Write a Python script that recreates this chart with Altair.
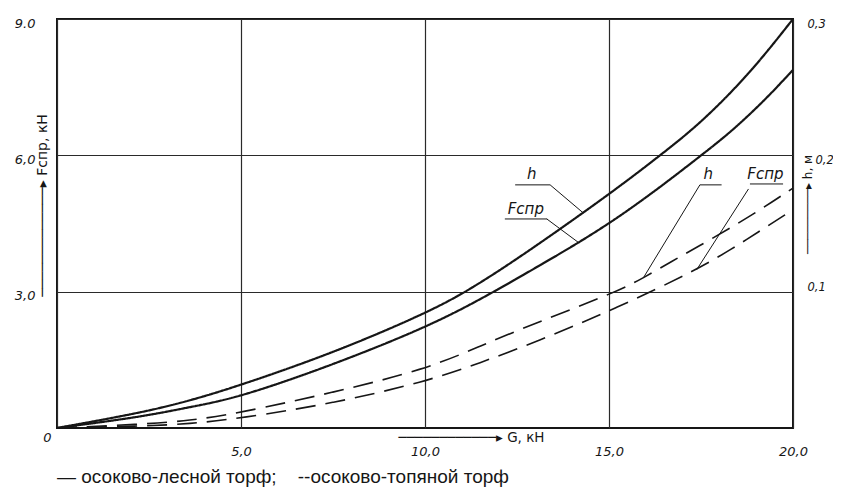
import altair as alt
import pandas as pd

# ---- data (G in kN) ----
# sedge-forest peat (solid)
G_F_forest = [0, 2.26, 3.61, 4.95, 7.5, 10.02, 11.49, 13.0, 15.22, 17.56, 18.38, 19.29, 20.0]
F_forest = [0, 0.24, 0.46, 0.67, 1.39, 2.21, 2.82, 3.52, 4.57, 6.03, 6.56, 7.26, 7.88]
G_h_forest = [0, 2.26, 3.61, 4.95, 7.5, 10.02, 11.27, 13.0, 15.19, 16.39, 17.47, 18.83, 20.0]
h_forest = [0, 0.011, 0.020, 0.031, 0.055, 0.084, 0.102, 0.133, 0.175, 0.200, 0.223, 0.260, 0.300]
# sedge-bog peat (dashed)
G_F_bog = [0, 2.26, 3.61, 4.95, 7.5, 10.02, 11.49, 13.0, 15.22, 17.38, 18.38, 19.01, 19.92, 20.0]
F_bog = [0, 0.04, 0.09, 0.21, 0.54, 1.02, 1.43, 1.89, 2.64, 3.48, 3.96, 4.29, 4.76, 4.80]
G_h_bog = [0, 2.26, 3.61, 4.95, 7.5, 10.02, 11.49, 13.0, 15.22, 15.93, 16.75, 17.29, 18.83, 20.0]
h_bog = [0, 0.0027, 0.0053, 0.011, 0.026, 0.043, 0.060, 0.077, 0.100, 0.110, 0.123, 0.131, 0.155, 0.176]

series_names = ["лесной", "топяной"]

# annotation labels (in G / kN units)
ann_text = ["h", "Fспр", "h", "Fспр"]
ann_G = [12.90, 12.74, 17.70, 19.25]
ann_F = [5.60, 4.82, 5.58, 5.58]
ul_G1 = [12.45, 12.17, 17.47, 18.83]
ul_G2 = [13.40, 13.32, 18.06, 19.73]
ul_F = [5.35, 4.60, 5.35, 5.37]
ld_G1 = [13.40, 13.31, 17.47, 18.79]
ld_F1 = [5.35, 4.60, 5.35, 5.26]
ld_G2 = [14.29, 14.19, 15.93, 17.38]
ld_F2 = [4.74, 4.07, 3.30, 3.48]

x_ticks = [0, 5, 10, 15, 20]
yF_ticks = [3, 6, 9]
yh_ticks = [0.1, 0.2, 0.3]

legend_text = "— осоково-лесной торф;\u00a0\u00a0\u00a0 --осоково-топяной торф"

# ---- tables ----
df_F = pd.DataFrame({
    "G": G_F_forest + G_F_bog,
    "F": F_forest + F_bog,
    "series": [series_names[0]] * len(G_F_forest) + [series_names[1]] * len(G_F_bog),
})
df_h = pd.DataFrame({
    "G": G_h_forest + G_h_bog,
    "h": h_forest + h_bog,
    "series": [series_names[0]] * len(G_h_forest) + [series_names[1]] * len(G_h_bog),
})
df_ann = pd.DataFrame({
    "text": ann_text, "G": ann_G, "F": ann_F,
    "ulG1": ul_G1, "ulG2": ul_G2, "ulF": ul_F,
    "ldG1": ld_G1, "ldF1": ld_F1, "ldG2": ld_G2, "ldF2": ld_F2,
})

INK = "#161616"
HAND = "DejaVu Sans"

x_axis = alt.Axis(
    values=x_ticks,
    title="────────────▸  G, кН",
    titleX=414, titleY=9, titleAlign="center", titleBaseline="middle",
    titleFont=HAND, titleFontSize=13.5, titleFontWeight="normal", titleColor=INK,
    labelExpr="datum.value == 0 ? '0' : replace(format(datum.value, '.1f'), '.', ',')",
    labelFont=HAND, labelFontStyle="italic", labelFontSize=13, labelColor=INK,
    labelPadding={"condition": {"test": "datum.value == 0", "value": 3}, "value": 17},
    labelOffset={"condition": {"test": "datum.value == 0", "value": -10}, "value": 0},
    labelFlush=False, labelOverlap=False,
    domain=False, ticks=False,
    grid=True, gridColor="#2a2a2a", gridWidth=1.2, gridOpacity=1,
)

y_left = alt.Axis(
    values=yF_ticks,
    title="─────────────▸  Fспр, кН",
    titleAngle=270, titleX=-15, titleY=186, titleAlign="center", titleBaseline="middle",
    titleFont=HAND, titleFontSize=14, titleFontWeight="normal", titleColor=INK,
    labelExpr="datum.value == 9 ? '9.0' : replace(format(datum.value, '.1f'), '.', ',')",
    labelFont=HAND, labelFontStyle="italic", labelFontSize=13, labelColor=INK,
    labelPadding=22, labelOffset=4, labelFlush=False, labelOverlap=False,
    domain=False, ticks=False,
    grid=True, gridColor="#2a2a2a", gridWidth=1.2, gridOpacity=1,
)

y_right = alt.Axis(
    orient="right",
    values=yh_ticks,
    title="─────────▸  h, м",
    titleAngle=270, titleX=14, titleY=185, titleAlign="center", titleBaseline="middle",
    titleFont=HAND, titleFontSize=12, titleFontWeight="normal", titleColor=INK,
    labelExpr="replace(format(datum.value, '.1f'), '.', ',')",
    labelFont=HAND, labelFontStyle="italic", labelFontSize=11.5, labelColor=INK,
    labelPadding={"condition": {"test": "datum.value > 0.15 && datum.value < 0.25", "value": 22}, "value": 14},
    labelOffset={"condition": {"test": "datum.value < 0.15", "value": -4}, "value": 5},
    labelFlush=False, labelOverlap=False,
    domain=False, ticks=False, grid=False,
)

xs = alt.Scale(domain=[0, 20], nice=False, zero=False)
yFs = alt.Scale(domain=[0, 9], nice=False)
yhs = alt.Scale(domain=[0, 0.3], nice=False)

dash = alt.StrokeDash("series:N", scale=alt.Scale(domain=series_names, range=[[1, 0], [20, 10]]), legend=None)
swidth = alt.StrokeWidth("series:N", scale=alt.Scale(domain=series_names, range=[2.2, 1.6]), legend=None)

F_lines = alt.Chart(df_F).mark_line(color=INK, interpolate="basis").encode(
    x=alt.X("G:Q", scale=xs, axis=x_axis),
    y=alt.Y("F:Q", scale=yFs, axis=y_left),
    strokeDash=dash, strokeWidth=swidth, detail="series:N",
)

ann_base = alt.Chart(df_ann)
texts = ann_base.mark_text(font=HAND, fontStyle="italic", fontSize=15, color=INK, baseline="middle").encode(
    x=alt.X("G:Q", scale=xs, axis=x_axis),
    y=alt.Y("F:Q", scale=yFs, axis=y_left),
    text="text:N",
)
underlines = ann_base.mark_rule(color=INK, strokeWidth=1).encode(
    x=alt.X("ulG1:Q", scale=xs, axis=x_axis), x2="ulG2:Q",
    y=alt.Y("ulF:Q", scale=yFs, axis=y_left),
)
leaders = ann_base.mark_rule(color=INK, strokeWidth=1).encode(
    x=alt.X("ldG1:Q", scale=xs, axis=x_axis), x2="ldG2:Q",
    y=alt.Y("ldF1:Q", scale=yFs, axis=y_left), y2="ldF2:Q",
)

left = alt.layer(F_lines, underlines, leaders, texts)

h_lines = alt.Chart(df_h).mark_line(color=INK, interpolate="basis").encode(
    x=alt.X("G:Q", scale=xs, axis=x_axis),
    y=alt.Y("h:Q", scale=yhs, axis=y_right),
    strokeDash=dash, strokeWidth=swidth, detail="series:N",
)

chart = alt.layer(left, h_lines).resolve_scale(y="independent").properties(
    width=736, height=409,
    padding={"left": 49, "top": 11, "right": 40, "bottom": 66},
    autosize=alt.AutoSizeParams(type="none"),
    background="white",
    title=alt.TitleParams(
        text=legend_text, orient="bottom", anchor="start", frame="group",
        font="Liberation Sans", fontSize=19, fontWeight="normal", color=INK, offset=10,
    ),
).configure_view(stroke=INK, strokeWidth=2)

chart.save("out.html", embed_options={"renderer": "svg", "actions": False})
